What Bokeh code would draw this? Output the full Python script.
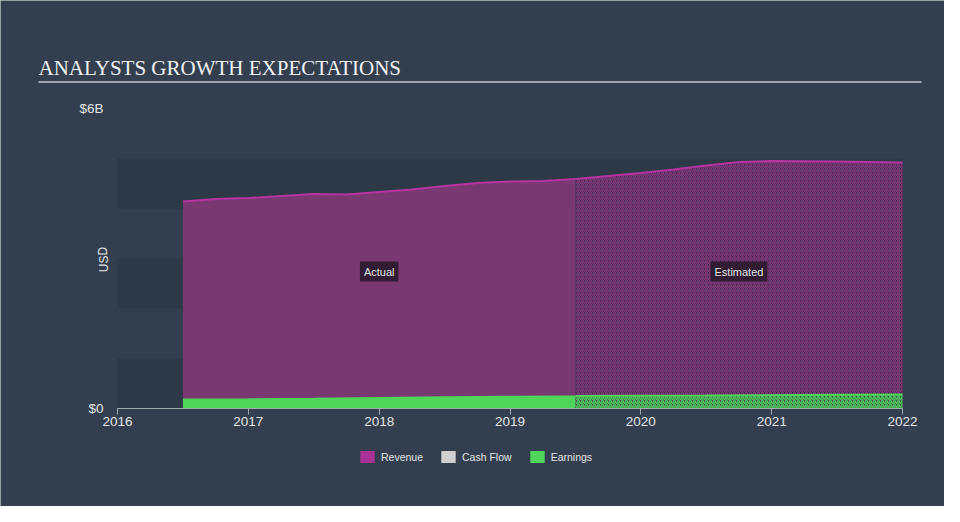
from bokeh.plotting import figure
from bokeh.models import Range1d, FixedTicker, Label, BoxAnnotation, Legend, LegendItem
from bokeh.embed import file_html
from bokeh.resources import INLINE

# ---- data ----
year_ticks = [2016, 2017, 2018, 2019, 2020, 2021, 2022]
year_labels = ["2016", "2017", "2018", "2019", "2020", "2021", "2022"]
usd_ticks = [0, 6e9]
usd_labels = ["$0", "$6B"]

rev_actual_x = [2016.5, 2016.75, 2017.0, 2017.25, 2017.5, 2017.75, 2018.0, 2018.25, 2018.5, 2018.75, 2019.0, 2019.25, 2019.5]
rev_actual_y = [4.14, 4.19, 4.21, 4.25, 4.29, 4.28, 4.33, 4.38, 4.45, 4.51, 4.54, 4.55, 4.59]
rev_est_x = [2019.5, 2019.75, 2020.0, 2020.25, 2020.5, 2020.75, 2021.0, 2021.5, 2022.0]
rev_est_y = [4.59, 4.65, 4.71, 4.78, 4.86, 4.93, 4.95, 4.94, 4.92]

earn_actual_x = [2016.5, 2017.0, 2017.5, 2018.0, 2018.5, 2019.0, 2019.5]
earn_actual_y = [0.18, 0.185, 0.195, 0.21, 0.225, 0.235, 0.24]
earn_est_x = [2019.5, 2020.5, 2021.5, 2022.0]
earn_est_y = [0.25, 0.26, 0.275, 0.28]

B = 1e9
BG = "#333f4f"
TXT = "#e2e4e6"
FONT = "Liberation Sans"
NAN = float("nan")

# ---- layout geometry (pixels) ----
W, H = 944, 506
PX_X0, PX_X1 = 117, 902      # where 2016 and 2022 sit
PX_Y0, PX_Y6 = 408, 108      # where $0 and $6B sit
ppx = (PX_X1 - PX_X0) / 6.0
ppy = (PX_Y0 - PX_Y6) / 6.0


def px_x(px):
    return 2016 + (px - PX_X0) / ppx


def px_y(py):
    return (PX_Y0 - py) / ppy * B


p = figure(width=W, height=H, output_backend="svg", toolbar_location=None,
           x_range=Range1d(px_x(0), px_x(W)), y_range=Range1d(px_y(H), px_y(0)),
           background_fill_color=BG, border_fill_color=BG, outline_line_color=None,
           min_border=0, min_border_left=0, min_border_right=0, min_border_top=0, min_border_bottom=0)
p.grid.visible = False

# alternating bands
for lo in [0, 2, 4]:
    p.add_layout(BoxAnnotation(bottom=lo * B, top=(lo + 1) * B, left=2016, right=2022,
                               fill_color="#2d3947", fill_alpha=1, line_color=None, level="underlay"))

# revenue
p.varea(x=rev_actual_x, y1=0, y2=[v * B for v in rev_actual_y], fill_color="#7a3873")
p.varea(x=rev_est_x, y1=0, y2=[v * B for v in rev_est_y], fill_color="#3a2e48",
        hatch_pattern="/", hatch_color="#82367c", hatch_scale=4, hatch_weight=1.5)
p.line(rev_actual_x, [v * B for v in rev_actual_y], line_color="#b5349f", line_width=2)
p.line(rev_est_x, [v * B for v in rev_est_y], line_color="#b5349f", line_width=2)

# earnings
p.varea(x=earn_actual_x, y1=0, y2=[v * B for v in earn_actual_y], fill_color="#4fd65a")
p.varea(x=earn_est_x, y1=0, y2=[v * B for v in earn_est_y], fill_color="#3b4a47",
        hatch_pattern="/", hatch_color="#4fc85a", hatch_scale=4, hatch_weight=1.5)
p.line(earn_actual_x, [v * B for v in earn_actual_y], line_color="#4fd65a", line_width=2)
p.line(earn_est_x, [v * B for v in earn_est_y], line_color="#4fd65a", line_width=2)

# axes (drawn at fixed positions inside the full-canvas frame)
xa = p.xaxis[0]
xa.fixed_location = 0
xa.bounds = (2016, 2022)
xa.ticker = FixedTicker(ticks=year_ticks)
xa.major_label_overrides = {t: l for t, l in zip(year_ticks, year_labels)}
xa.minor_tick_line_color = None
xa.major_tick_in = 0
xa.major_tick_out = 6
xa.axis_line_color = "#a3aab2"
xa.major_tick_line_color = "#a3aab2"
xa.major_label_text_color = TXT
xa.major_label_text_font = FONT
xa.major_label_text_font_size = "13.5px"
xa.major_label_standoff = 2

ya = p.yaxis[0]
ya.fixed_location = 2016
ya.ticker = FixedTicker(ticks=usd_ticks)
ya.major_label_overrides = {t: l for t, l in zip(usd_ticks, usd_labels)}
ya.axis_line_color = None
ya.major_tick_line_color = None
ya.minor_tick_line_color = None
ya.major_tick_in = 0
ya.major_tick_out = 0
ya.major_label_text_color = TXT
ya.major_label_text_font = FONT
ya.major_label_text_font_size = "13.5px"
ya.major_label_standoff = 14

# title, rule, axis caption
p.add_layout(Label(x=px_x(38), y=px_y(67), text="ANALYSTS GROWTH EXPECTATIONS",
                   text_align="left", text_baseline="alphabetic",
                   text_color="#eef0f2", text_font="Liberation Serif", text_font_size="21px"))
p.add_layout(BoxAnnotation(left=px_x(38), right=px_x(921), top=px_y(80.5), bottom=px_y(82.5),
                           fill_color="#a0a7b0", fill_alpha=1, line_color=None))
p.add_layout(Label(x=px_x(103), y=px_y(259), text="USD", angle=1.5708,
                   text_align="center", text_baseline="middle", text_color=TXT,
                   text_font=FONT, text_font_size="12px"))

for txt, xv in [("Actual", 2018.0), ("Estimated", 2020.75)]:
    p.add_layout(Label(x=xv, y=2.74 * B, text=txt, text_align="center", text_baseline="middle",
                       text_color=TXT, text_font=FONT, text_font_size="11px",
                       background_fill_color="#2a1a2c", background_fill_alpha=0.9, padding=4))

# legend (legend-only swatch renderers, nothing drawn in the plot)
r1 = p.quad(left=[NAN], right=[NAN], top=[NAN], bottom=[NAN], fill_color="#a93296", line_color=None)
r2 = p.quad(left=[NAN], right=[NAN], top=[NAN], bottom=[NAN], fill_color="#d0d0d0", line_color=None)
r3 = p.quad(left=[NAN], right=[NAN], top=[NAN], bottom=[NAN], fill_color="#4fd65a", line_color=None)
legend = Legend(items=[LegendItem(label="Revenue", renderers=[r1]),
                       LegendItem(label="Cash Flow", renderers=[r2]),
                       LegendItem(label="Earnings", renderers=[r3])],
                orientation="horizontal", location=(358, 42), padding=0, margin=0, spacing=16,
                glyph_width=18, glyph_height=15, label_standoff=5, label_height=12, label_width=10,
                label_text_color=TXT, label_text_font=FONT, label_text_font_size="10.5px",
                background_fill_alpha=0, border_line_color=None)
p.add_layout(legend, "center")

open("out.html", "w").write(file_html(p, INLINE))
